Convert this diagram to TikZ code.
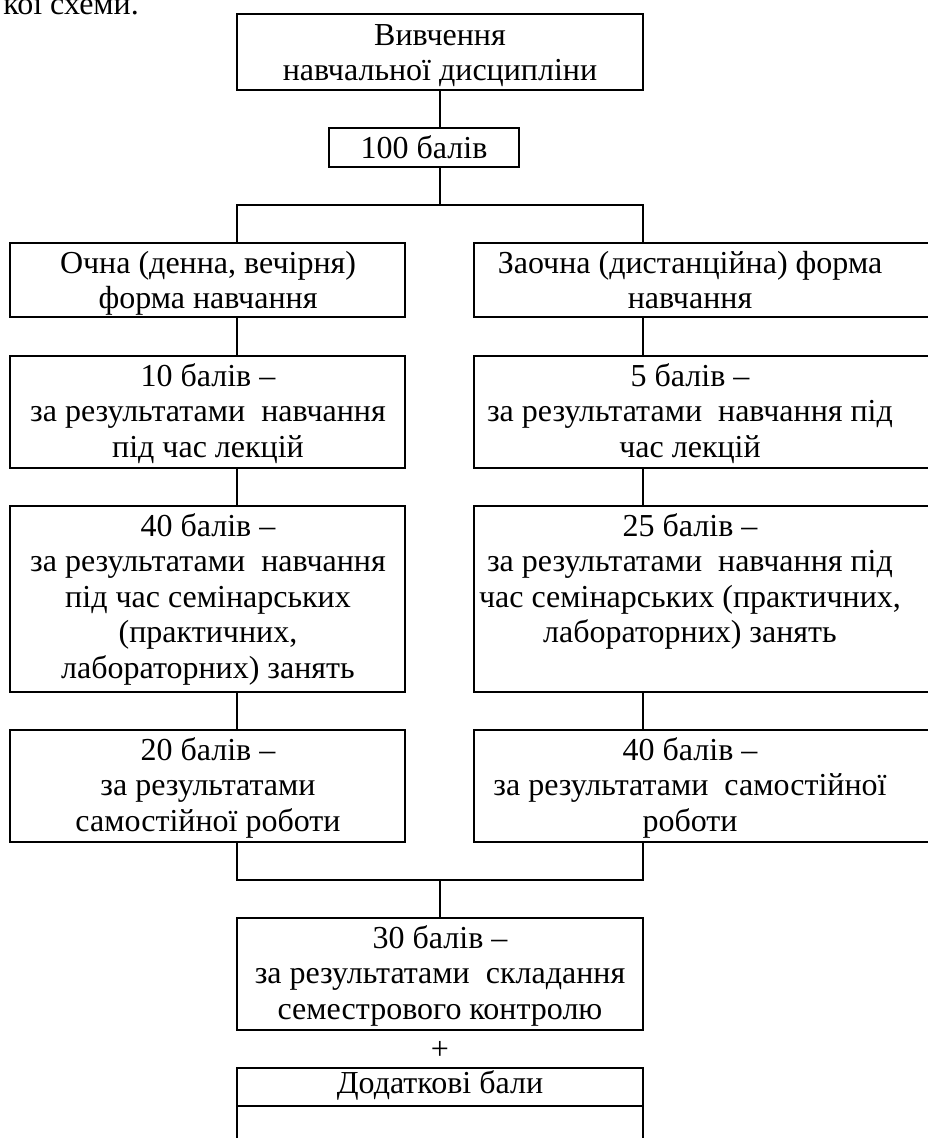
\documentclass[tikz,border=0pt]{standalone}
\usepackage{fontspec}
\setmainfont{Liberation Serif}
\tikzset{
  box/.style={draw, line width=2.2pt, inner sep=0pt, outer sep=0pt, anchor=north west},
  conn/.style={line width=1.8pt},
  lbl/.style={inner sep=0pt, align=center, anchor=north, font=\fontsize{32}{35.5}\selectfont},
}
\begin{document}
\begin{tikzpicture}[x=1pt, y=-1pt]
\useasboundingbox (0,0) rectangle (928,1138);
\clip (0,0) rectangle (928,1138);
% partial text at top
\node[inner sep=0pt, anchor=base east, font=\fontsize{32}{36}\selectfont] (prev) at (139,14) {кої схеми.};
% boxes
\node[box, minimum width=406, minimum height=76] (top) at (237,14) {};
\node[box, minimum width=190, minimum height=39] (hundred) at (329,128) {};
\node[box, minimum width=395, minimum height=74] (L1) at (10,243) {};
\node[box, minimum width=462, minimum height=74] (R1) at (474,243) {};
\node[box, minimum width=395, minimum height=112] (L2) at (10,356) {};
\node[box, minimum width=462, minimum height=112] (R2) at (474,356) {};
\node[box, minimum width=395, minimum height=186] (L3) at (10,506) {};
\node[box, minimum width=462, minimum height=186] (R3) at (474,506) {};
\node[box, minimum width=395, minimum height=112] (L4) at (10,730) {};
\node[box, minimum width=462, minimum height=112] (R4) at (474,730) {};
\node[box, minimum width=406, minimum height=112] (bot) at (237,918) {};
\node[box, minimum width=406, minimum height=38] (dod) at (237,1068) {};
\node[box, minimum width=406, minimum height=60] (dod2) at (237,1106) {};
% texts
\node[lbl] (top-t) at (440,20) {\strut Вивчення\\навчальної дисципліни};
\node[lbl] (hundred-t) at (424,133) {\strut 100 балів};
\node[lbl] (L1-t) at (208,248) {\strut Очна (денна, вечірня)\\форма навчання};
\node[lbl] (R1-t) at (690,248) {\strut Заочна (дистанційна) форма\\навчання};
\node[lbl] (L2-t) at (208,361) {\strut 10 балів –\\за результатами~ навчання\\під час лекцій};
\node[lbl] (R2-t) at (690,361) {\strut 5 балів –\\за результатами~ навчання під\\час лекцій};
\node[lbl] (L3-t) at (208,511) {\strut 40 балів –\\за результатами~ навчання\\під час семінарських\\(практичних,\\лабораторних) занять};
\node[lbl] (R3-t) at (690,511) {\strut 25 балів –\\за результатами~ навчання під\\час семінарських (практичних,\\лабораторних) занять};
\node[lbl] (L4-t) at (208,735) {\strut 20 балів –\\за результатами\\самостійної роботи};
\node[lbl] (R4-t) at (690,735) {\strut 40 балів –\\за результатами~ самостійної\\роботи};
\node[lbl] (bot-t) at (440,923) {\strut 30 балів –\\за результатами~ складання\\семестрового контролю};
\node[inner sep=0pt, font=\fontsize{32}{36}\selectfont] (plus) at (440,1050) {+};
\node[lbl] (dod-t) at (440,1068) {\strut Додаткові бали};
% connector coordinates
\coordinate (bl) at (237,205);
\coordinate (br) at (643,205);
\coordinate (bc) at (440,205);
\coordinate (jl) at (237,880);
\coordinate (jr) at (643,880);
\coordinate (jc) at (440,880);
% connectors
\draw[conn] (top.south) -- (hundred.north -| top.south);
\draw[conn] (hundred.south -| top.south) -- (bc);
\draw[conn] (L1.north -| bl) -- (bl) -- (br) -- (R1.north -| br);
\draw[conn] (L1.south -| bl) -- (L2.north -| bl);
\draw[conn] (L2.south -| bl) -- (L3.north -| bl);
\draw[conn] (L3.south -| bl) -- (L4.north -| bl);
\draw[conn] (R1.south -| br) -- (R2.north -| br);
\draw[conn] (R2.south -| br) -- (R3.north -| br);
\draw[conn] (R3.south -| br) -- (R4.north -| br);
\draw[conn] (L4.south -| jl) -- (jl) -- (jr) -- (R4.south -| jr);
\draw[conn] (jc) -- (bot.north);
\end{tikzpicture}
\end{document}
